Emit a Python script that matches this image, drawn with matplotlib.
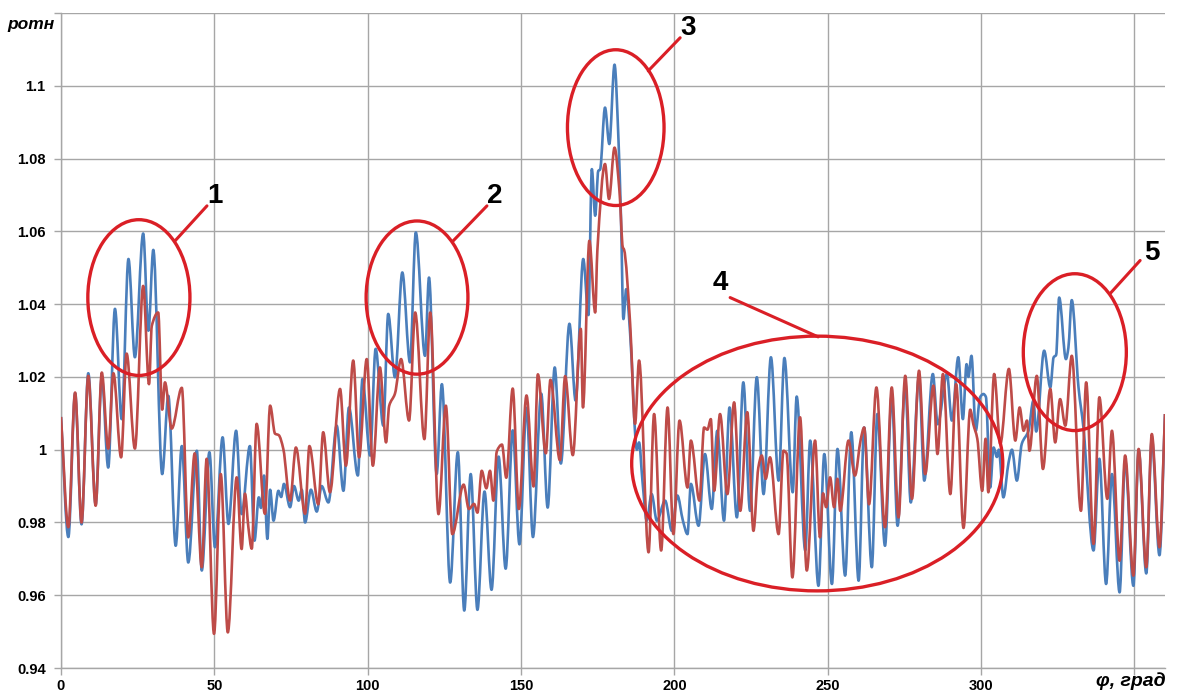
import matplotlib.pyplot as plt
from matplotlib.patches import Ellipse, PathPatch
from matplotlib.path import Path

# Relative pressure vs crank angle, two variants (peaks and troughs of the traces)
phi_blue = [0, 2.4, 4.6, 6.7, 8.9, 11.3, 13.3, 15.4, 17.6, 19.8, 22.0, 24.1, 26.8, 28.5, 30.1,
            33.0, 35.0, 37.4, 39.4, 41.5, 44.3, 45.9, 48.4, 50.2, 52.7, 54.6, 57.1, 58.9, 61.6,
            63.1, 64.5, 65.2, 66.2, 67.3, 68.2, 69.3, 70.9, 71.8, 72.7, 74.7, 76.0, 77.5, 78.5,
            79.6, 81.5, 83.4, 85.0, 87.2, 89.9, 92.1, 93.9, 96.8, 98.3, 100.8, 102.6, 105.1,
            106.7, 108.9, 111.3, 113.8, 115.7, 118.7, 120.0, 122.5, 124.2, 126.9, 129.4, 131.5,
            133.6, 135.8, 138.1, 140.4, 142.7, 145.0, 147.3, 149.5, 151.8, 153.9, 156.6, 158.7,
            161.0, 163.0, 165.8, 167.8, 170.3, 172.0, 173.1, 174.2, 175.2, 175.8, 177.4, 178.8,
            180.5, 181.8, 182.6, 183.4, 184.3, 185.6, 187.8, 188.5, 189.6, 191.0, 192.6, 194.3,
            197.0, 199.2, 201.0, 202.8, 204.3, 205.4, 207.9, 210.0, 212.2, 214.0, 216.2, 218.0,
            220.4, 222.5, 224.7, 226.9, 229.1, 231.5, 234.0, 235.9, 238.6, 239.9, 242.7, 244.3,
            247.0, 248.9, 251.4, 253.2, 255.7, 257.7, 260.1, 261.9, 264.4, 266.2, 268.7, 270.9,
            272.8, 275.3, 277.1, 279.8, 281.5, 284.3, 285.9, 288.9, 290.5, 292.6, 294.1, 295.3,
            295.9, 296.9, 298.3, 299.7, 300.8, 301.6, 303.0, 304.1, 305.2, 305.8, 307.3, 309.0,
            310.1, 311.7, 313.3, 315.5, 317.1, 318.0, 320.6, 322.6, 323.7, 324.5, 325.5, 327.7,
            328.5, 329.6, 331.8, 333.4, 336.7, 338.6, 340.8, 342.7, 345.2, 347.0, 349.7, 351.4,
            353.9, 355.7, 358.2, 360.0]
p_blue = [1.009, 0.976, 1.0155, 0.9795, 1.021, 0.985, 1.020, 0.9951, 1.0387, 1.0084, 1.0524,
          1.0254, 1.0594, 1.0327, 1.0549, 0.9933, 1.0148, 0.9736, 1.001, 0.969, 0.9997, 0.9668,
          0.9993, 0.9732, 1.0034, 0.9796, 1.0052, 0.9823, 1.001, 0.975, 0.9869, 0.984, 0.9929,
          0.9755, 0.989, 0.9805, 0.9887, 0.987, 0.9906, 0.9842, 0.990, 0.986, 0.989, 0.980,
          0.989, 0.983, 0.990, 0.9855, 1.0066, 0.9887, 1.0116, 0.9929, 1.0194, 0.9984, 1.0277,
          1.0066, 1.0373, 1.0199, 1.0487, 1.024, 1.0597, 1.0258, 1.0473, 0.9933, 1.018, 0.9635,
          0.9993, 0.9558, 0.9933, 0.956, 0.9885, 0.9615, 0.9981, 0.9673, 1.0053, 0.974, 1.0115,
          0.976, 1.0154, 0.9841, 1.0226, 0.9962, 1.0346, 1.0135, 1.0524, 1.037, 1.0771, 1.0643,
          1.0766, 1.0770, 1.094, 1.084, 1.1058, 1.0849, 1.0638, 1.0359, 1.0441, 1.0318, 1.000,
          1.002, 0.9915, 0.9805, 0.9878, 0.9805, 0.986, 0.9777, 0.9874, 0.9805, 0.9768, 0.9906,
          0.9791, 0.9988, 0.9837, 1.0052, 0.9805, 1.0116, 0.9814, 1.0185, 0.9832, 1.0199, 0.9878,
          1.0254, 0.9915, 1.0252, 0.9883, 1.0146, 0.9723, 1.0025, 0.9626, 0.9988, 0.9631, 1.0002,
          0.9654, 1.0048, 0.964, 1.0061, 0.9677, 1.0098, 0.9736, 1.015, 0.9791, 1.018, 0.9855,
          1.020, 0.9915, 1.0208, 1.007, 1.0208, 1.008, 1.0254, 1.0084, 1.0235, 1.020, 1.0258,
          1.0052, 1.0144, 1.0153, 1.0145, 0.9896, 1.0006, 0.998, 1.000, 0.9869, 0.9965, 1.000,
          0.9915, 1.0016, 1.0052, 1.0135, 1.005, 1.0272, 1.0171, 1.0254, 1.026, 1.0418, 1.0249,
          1.028, 1.0411, 1.0171, 1.0061, 0.9723, 0.9975, 0.9631, 0.9933, 0.9608, 0.997, 0.9626,
          1.000, 0.966, 1.003, 0.971, 1.0098]

phi_red = [0, 2.4, 4.6, 6.7, 8.9, 11.3, 13.3, 15.4, 17.1, 19.6, 21.4, 24.1, 26.8, 28.7, 29.6,
           31.7, 33.0, 33.9, 36.1, 39.4, 41.5, 43.6, 45.9, 47.5, 49.9, 52.1, 54.4, 57.3, 58.9,
           60.0, 61.1, 62.2, 63.8, 66.5, 68.2, 69.8, 71.0, 72.5, 74.7, 76.6, 79.6, 81.0, 83.9,
           85.5, 87.7, 91.0, 92.9, 95.3, 97.2, 99.7, 101.7, 104.0, 106.0, 107.0, 108.9, 110.9,
           113.5, 115.5, 118.5, 120.4, 123.1, 125.5, 127.6, 131.3, 133.0, 134.7, 135.8, 137.2,
           138.7, 139.9, 141.0, 142.1, 143.8, 145.2, 147.3, 149.3, 151.8, 154.1, 155.5, 158.1,
           159.6, 162.7, 164.4, 166.9, 169.5, 170.2, 172.3, 174.2, 174.9, 177.4, 178.7, 180.5,
           182.1, 183.2, 183.6, 185.6, 187.2, 188.5, 191.6, 193.4, 195.7, 197.8, 199.7, 201.7,
           204.3, 205.4, 208.2, 209.7, 210.8, 211.9, 213.0, 214.9, 217.3, 219.5, 221.5, 223.8,
           225.8, 227.4, 228.5, 229.8, 231.2, 234.0, 235.6, 236.6, 238.5, 241.0, 243.2, 245.9,
           247.5, 248.5, 249.5, 250.8, 252.1, 253.2, 254.1, 256.8, 258.9, 260.8, 261.9, 263.5,
           265.9, 268.7, 270.9, 273.1, 275.3, 277.5, 279.8, 281.8, 284.5, 285.8, 287.6, 290.0,
           291.9, 294.3, 296.5, 297.5, 298.8, 300.4, 301.5, 302.4, 304.3, 306.3, 309.1, 311.2,
           312.6, 313.9, 315.0, 315.8, 318.2, 320.2, 322.6, 324.2, 325.8, 327.5, 329.6, 332.6,
           334.3, 336.7, 338.6, 341.2, 342.7, 345.2, 347.0, 349.7, 351.4, 353.9, 355.7, 358.2,
           360.0]
p_red = [1.009, 0.9787, 1.0157, 0.980, 1.0203, 0.9846, 1.0212, 1.0003, 1.021, 0.9979, 1.0264,
         1.0003, 1.045, 1.018, 1.034, 1.0377, 1.011, 1.0185, 1.0058, 1.017, 0.9759, 0.999,
         0.9677, 0.9975, 0.9494, 0.9933, 0.9498, 0.9924, 0.9727, 0.9879, 0.9787, 0.9728, 1.0071,
         0.9824, 1.0121, 1.0044, 1.004, 1.0002, 0.986, 1.0006, 0.9824, 1.001, 0.985, 1.0048,
         0.9883, 1.0167, 0.9956, 1.0245, 0.9979, 1.0249, 0.9956, 1.0226, 1.002, 1.012, 1.0154,
         1.0249, 1.008, 1.0377, 1.0029, 1.0377, 0.9823, 1.0121, 0.9768, 0.9904, 0.9837, 0.9851,
         0.9827, 0.9942, 0.9894, 0.9942, 0.986, 0.9995, 1.0014, 0.9923, 1.0168, 0.9837, 1.0149,
         0.9899, 1.0207, 0.999, 1.0192, 0.9971, 1.0202, 0.9985, 1.0332, 1.0116, 1.0574, 1.0377,
         1.0547, 1.0785, 1.0689, 1.083, 1.0712, 1.0556, 1.0550, 1.0345, 1.0071, 1.0245, 0.9718,
         1.0098, 0.9723, 1.0116, 0.9768, 1.008, 0.9896, 1.0025, 0.986, 1.0061, 1.0055, 1.0084,
         0.9887, 1.0098, 0.9878, 1.013, 0.9832, 1.0103, 0.9777, 0.9951, 0.9984, 0.992, 0.9979,
         0.9768, 0.9997, 0.999, 0.9649, 1.0089, 0.9668, 1.0025, 0.9759, 0.988, 0.9842, 0.9924,
         0.9842, 0.992, 0.9832, 1.0025, 0.9929, 1.0029, 1.0061, 0.985, 1.0171, 0.9787, 1.0171,
         0.9814, 1.0203, 0.9865, 1.0217, 0.9933, 1.0176, 0.9988, 1.0208, 0.9878, 1.018, 0.9785,
         1.011, 1.007, 1.003, 0.9887, 1.003, 0.9883, 1.0208, 1.0016, 1.0222, 1.0025, 1.0116,
         1.0052, 1.008, 0.9997, 1.0203, 0.9947, 1.0167, 1.002, 1.0139, 1.0066, 1.0258, 0.9832,
         1.0185, 0.9741, 1.0144, 0.9865, 1.0052, 0.9695, 0.9984, 0.9654, 1.0002, 0.9677, 1.0043,
         0.9732, 1.0098]

# marked zones: centre (phi, p), width, height, label position, leader line
zone_labels = ["1", "2", "3", "4", "5"]
zone_centers = [(25.4, 1.0418), (116.1, 1.0418), (180.9, 1.0885), (246.6, 0.9962), (330.6, 1.0268)]
zone_sizes = [(33.3, 0.0428), (33.2, 0.0421), (31.5, 0.0428), (121.0, 0.0700), (33.6, 0.0431)]
label_pos = [(50.2, 1.0698), (141.6, 1.0698), (204.5, 1.1159), (214.9, 1.0459), (355.8, 1.0541)]
leaders = [((37.2, 47.6), (1.0574, 1.0670)), ((127.9, 138.9), (1.0574, 1.0670)),
           ((191.5, 201.9), (1.1041, 1.1132)), ((218.2, 246.9), (1.0418, 1.0310)),
           ((342.1, 351.9), (1.0429, 1.0520))]

x_ticks = [0, 50, 100, 150, 200, 250, 300, 350]
x_labels = ["0", "50", "100", "150", "200", "250", "300", ""]
y_ticks = [0.94, 0.96, 0.98, 1.0, 1.02, 1.04, 1.06, 1.08, 1.1, 1.12]
y_labels = ["0.94", "0.96", "0.98", "1", "1.02", "1.04", "1.06", "1.08", "1.1", ""]

BLUE = "#4A7EBB"
RED = "#BE4B48"
MARK = "#DA1F26"
GRID = "#A6A6A6"


def smooth_path(xs, ys):
    """Cubic Bezier path through the points, flat at local extrema (Excel-like smoothing)."""
    n = len(xs)
    slopes = [(ys[i + 1] - ys[i]) / (xs[i + 1] - xs[i]) for i in range(n - 1)]
    tang = [slopes[0]]
    for i in range(1, n - 1):
        a, b = slopes[i - 1], slopes[i]
        tang.append(0.0 if a * b <= 0 else 2 * a * b / (a + b))
    tang.append(slopes[-1])
    verts = [(xs[0], ys[0])]
    codes = [Path.MOVETO]
    for i in range(n - 1):
        d = (xs[i + 1] - xs[i]) / 3
        verts += [(xs[i] + d, ys[i] + tang[i] * d),
                  (xs[i + 1] - d, ys[i + 1] - tang[i + 1] * d),
                  (xs[i + 1], ys[i + 1])]
        codes += [Path.CURVE4] * 3
    return Path(verts, codes)


fig = plt.figure(figsize=(11.89, 6.95), dpi=100)
ax = fig.add_axes([0.0513, 0.0388, 0.9285, 0.9425])

ax.add_patch(PathPatch(smooth_path(phi_blue, p_blue), fill=False, edgecolor=BLUE, lw=1.9,
                       joinstyle="round", zorder=3))
ax.add_patch(PathPatch(smooth_path(phi_red, p_red), fill=False, edgecolor=RED, lw=1.9,
                       joinstyle="round", zorder=4))

for (cx, cy), (w, h) in zip(zone_centers, zone_sizes):
    ax.add_patch(Ellipse((cx, cy), w, h, fill=False, edgecolor=MARK, lw=2.4, zorder=5))
for (lx, ly) in leaders:
    ax.plot(lx, ly, color=MARK, lw=2.2, zorder=5, solid_capstyle="round")
for lab, (tx, ty) in zip(zone_labels, label_pos):
    ax.text(tx, ty, lab, fontsize=20, fontweight="bold", family="Liberation Sans",
            ha="center", va="center", zorder=6)

ax.set_xlim(0, 360)
ax.set_ylim(0.94, 1.12)
ax.set_xticks(x_ticks)
ax.set_xticklabels(x_labels)
ax.set_yticks(y_ticks)
ax.set_yticklabels(y_labels)
for lbl in ax.get_xticklabels() + ax.get_yticklabels():
    lbl.set_fontfamily("Liberation Sans")
    lbl.set_fontweight("bold")
    lbl.set_fontsize(10.5)
ax.tick_params(axis="both", length=5, width=1, color=GRID, pad=3)
ax.tick_params(axis="y", pad=6)
ax.grid(True, color=GRID, lw=1)
ax.set_axisbelow(True)
for side in ["top", "right"]:
    ax.spines[side].set_visible(False)
for side in ["left", "bottom"]:
    ax.spines[side].set_color(GRID)
    ax.spines[side].set_linewidth(1)

ax.text(-0.027, 0.982, "ротн", transform=ax.transAxes, fontsize=12.5, fontweight="bold",
        fontstyle="italic", family="Liberation Sans", ha="center", va="center")
ax.text(0.969, -0.02, "φ, град", transform=ax.transAxes, fontsize=14, fontweight="bold",
        fontstyle="italic", family="Liberation Sans", ha="center", va="center")

fig.savefig("out.png", dpi=100, facecolor="white")
